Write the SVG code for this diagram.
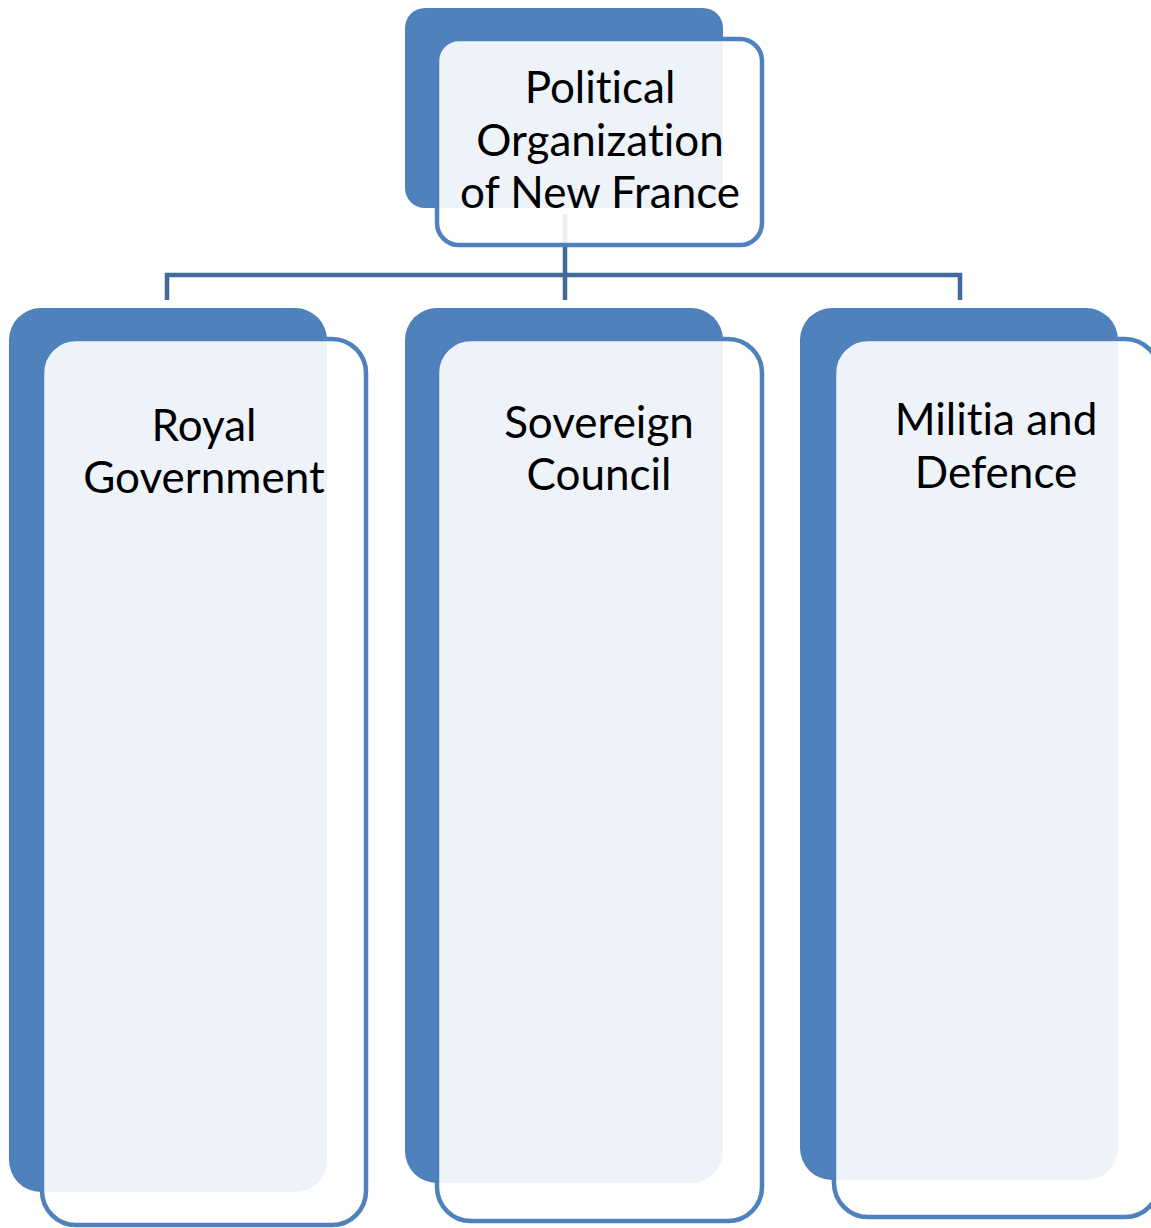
<svg xmlns="http://www.w3.org/2000/svg" width="1151" height="1228" viewBox="0 0 1151 1228">
<style>
.back{fill:#4F81BD}
.front{fill:#FFFFFF;fill-opacity:0.9;stroke:#4F81BD;stroke-width:4.5}
.conn{fill:none;stroke:#41699A;stroke-width:4.5}
text{font-family:Lato,"Open Sans","Liberation Sans",sans-serif;font-size:44px;fill:#000;text-anchor:middle;font-variant-ligatures:none;font-feature-settings:"liga" 0}
</style>
<rect width="1151" height="1228" fill="#FFFFFF"/>
<g id="connectors">
<path class="conn" d="M565 214V300M167 300V275H960V300"/>
</g>
<g id="node-top">
<rect class="back" x="405" y="8" width="318" height="200" rx="20"/>
<rect class="front" x="437" y="39" width="325" height="206" rx="22"/>
<text x="600" y="103">Political</text>
<text x="600" y="156">Organization</text>
<text x="600" y="208">of New France</text>
</g>
<g id="node-royal">
<rect class="back" x="9" y="308" width="318" height="884" rx="32"/>
<rect class="front" x="42" y="339" width="324" height="886" rx="34"/>
<text x="204" y="441">Royal</text>
<text x="204" y="493">Government</text>
</g>
<g id="node-sovereign">
<rect class="back" x="405" y="308" width="318" height="875" rx="32"/>
<rect class="front" x="437" y="339" width="325" height="882" rx="34"/>
<text x="599" y="438">Sovereign</text>
<text x="599" y="490">Council</text>
</g>
<g id="node-militia">
<rect class="back" x="800" y="308" width="318" height="872" rx="32"/>
<rect class="front" x="834" y="339" width="325" height="878" rx="34"/>
<text x="996" y="435">Militia and</text>
<text x="996" y="488">Defence</text>
</g>
</svg>
